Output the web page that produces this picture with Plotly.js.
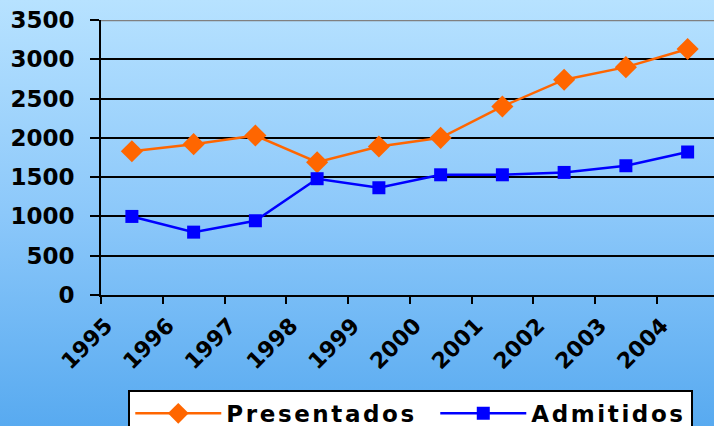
<!DOCTYPE html>
<html>
<head>
<meta charset="utf-8">
<script src="https://cdn.plot.ly/plotly-3.0.1.min.js"></script>
<style>
html, body { margin:0; padding:0; }
body { width:714px; height:426px; overflow:hidden;
  background: linear-gradient(to bottom, rgb(183,226,255) 0%, rgb(140,200,250) 50%, rgb(88,170,240) 100%); }
#chart { width:714px; height:426px; }
.legendtext { letter-spacing: 2.6px; }
</style>
</head>
<body>
<div id="chart"></div>
<script>
const years = ["1995","1996","1997","1998","1999","2000","2001","2002","2003","2004"];
const presentados = [1830, 1920, 2030, 1690, 1890, 2000, 2400, 2740, 2900, 3130];
const admitidos = [1000, 800, 945, 1480, 1365, 1530, 1530, 1560, 1645, 1820];

const xs = years.map((y, i) => i + 0.5);
const tickvals = years.map((y, i) => i);

const yfont = {family: "DejaVu Sans", size: 23, color: "#000", weight: 700};
const xfont = {family: "DejaVu Sans", size: 22, color: "#000", weight: 700};

const traces = [
  {x: xs, y: presentados, name: "Presentados", type: "scatter", mode: "lines+markers",
   line: {color: "#FF6600", width: 2.5},
   marker: {symbol: "diamond", size: 17, color: "#FF6600"},
   legendwidth: 204},
  {x: xs, y: admitidos, name: "Admitidos", type: "scatter", mode: "lines+markers",
   line: {color: "#0000FF", width: 2.5},
   marker: {symbol: "square", size: 13, color: "#0000FF"}}
];

const layout = {
  width: 714, height: 426,
  margin: {l: 101, r: 0, t: 20, b: 131, pad: 0, autoexpand: false},
  paper_bgcolor: "rgba(0,0,0,0)",
  plot_bgcolor: "rgba(0,0,0,0)",
  showlegend: true,
  xaxis: {
    range: [0, 9.927], tickvals: tickvals, ticktext: years,
    tickangle: -45, ticks: "outside", ticklen: 7, tickwidth: 2, tickcolor: "#000",
    showline: true, linecolor: "#000", linewidth: 2,
    showgrid: false, zeroline: false, tickfont: xfont, fixedrange: true,
    ticklabelshift: 5, automargin: false
  },
  yaxis: {
    range: [0, 3500], dtick: 500, tick0: 0,
    ticks: "outside", ticklen: 9, tickwidth: 2, tickcolor: "#000",
    showline: true, linecolor: "#000", linewidth: 2,
    showgrid: true, gridcolor: "#000", gridwidth: 2, zeroline: false,
    tickfont: yfont, ticklabelstandoff: 11, fixedrange: true, automargin: false
  },
  shapes: [
    {type: "line", xref: "paper", yref: "y", x0: 0, x1: 1, y0: 3500, y1: 3500,
     line: {color: "#808080", width: 2.5}}
  ],
  legend: {
    orientation: "h", x: 0.0445, xanchor: "left", y: -0.345, yanchor: "top",
    bgcolor: "#FFFFFF", bordercolor: "#000", borderwidth: 2,
    font: {family: "DejaVu Sans", size: 23, color: "#000", weight: 700},
    itemwidth: 86, tracegroupgap: 0
  }
};

Plotly.newPlot("chart", traces, layout, {staticPlot: true, displayModeBar: false});
</script>
</body>
</html>
